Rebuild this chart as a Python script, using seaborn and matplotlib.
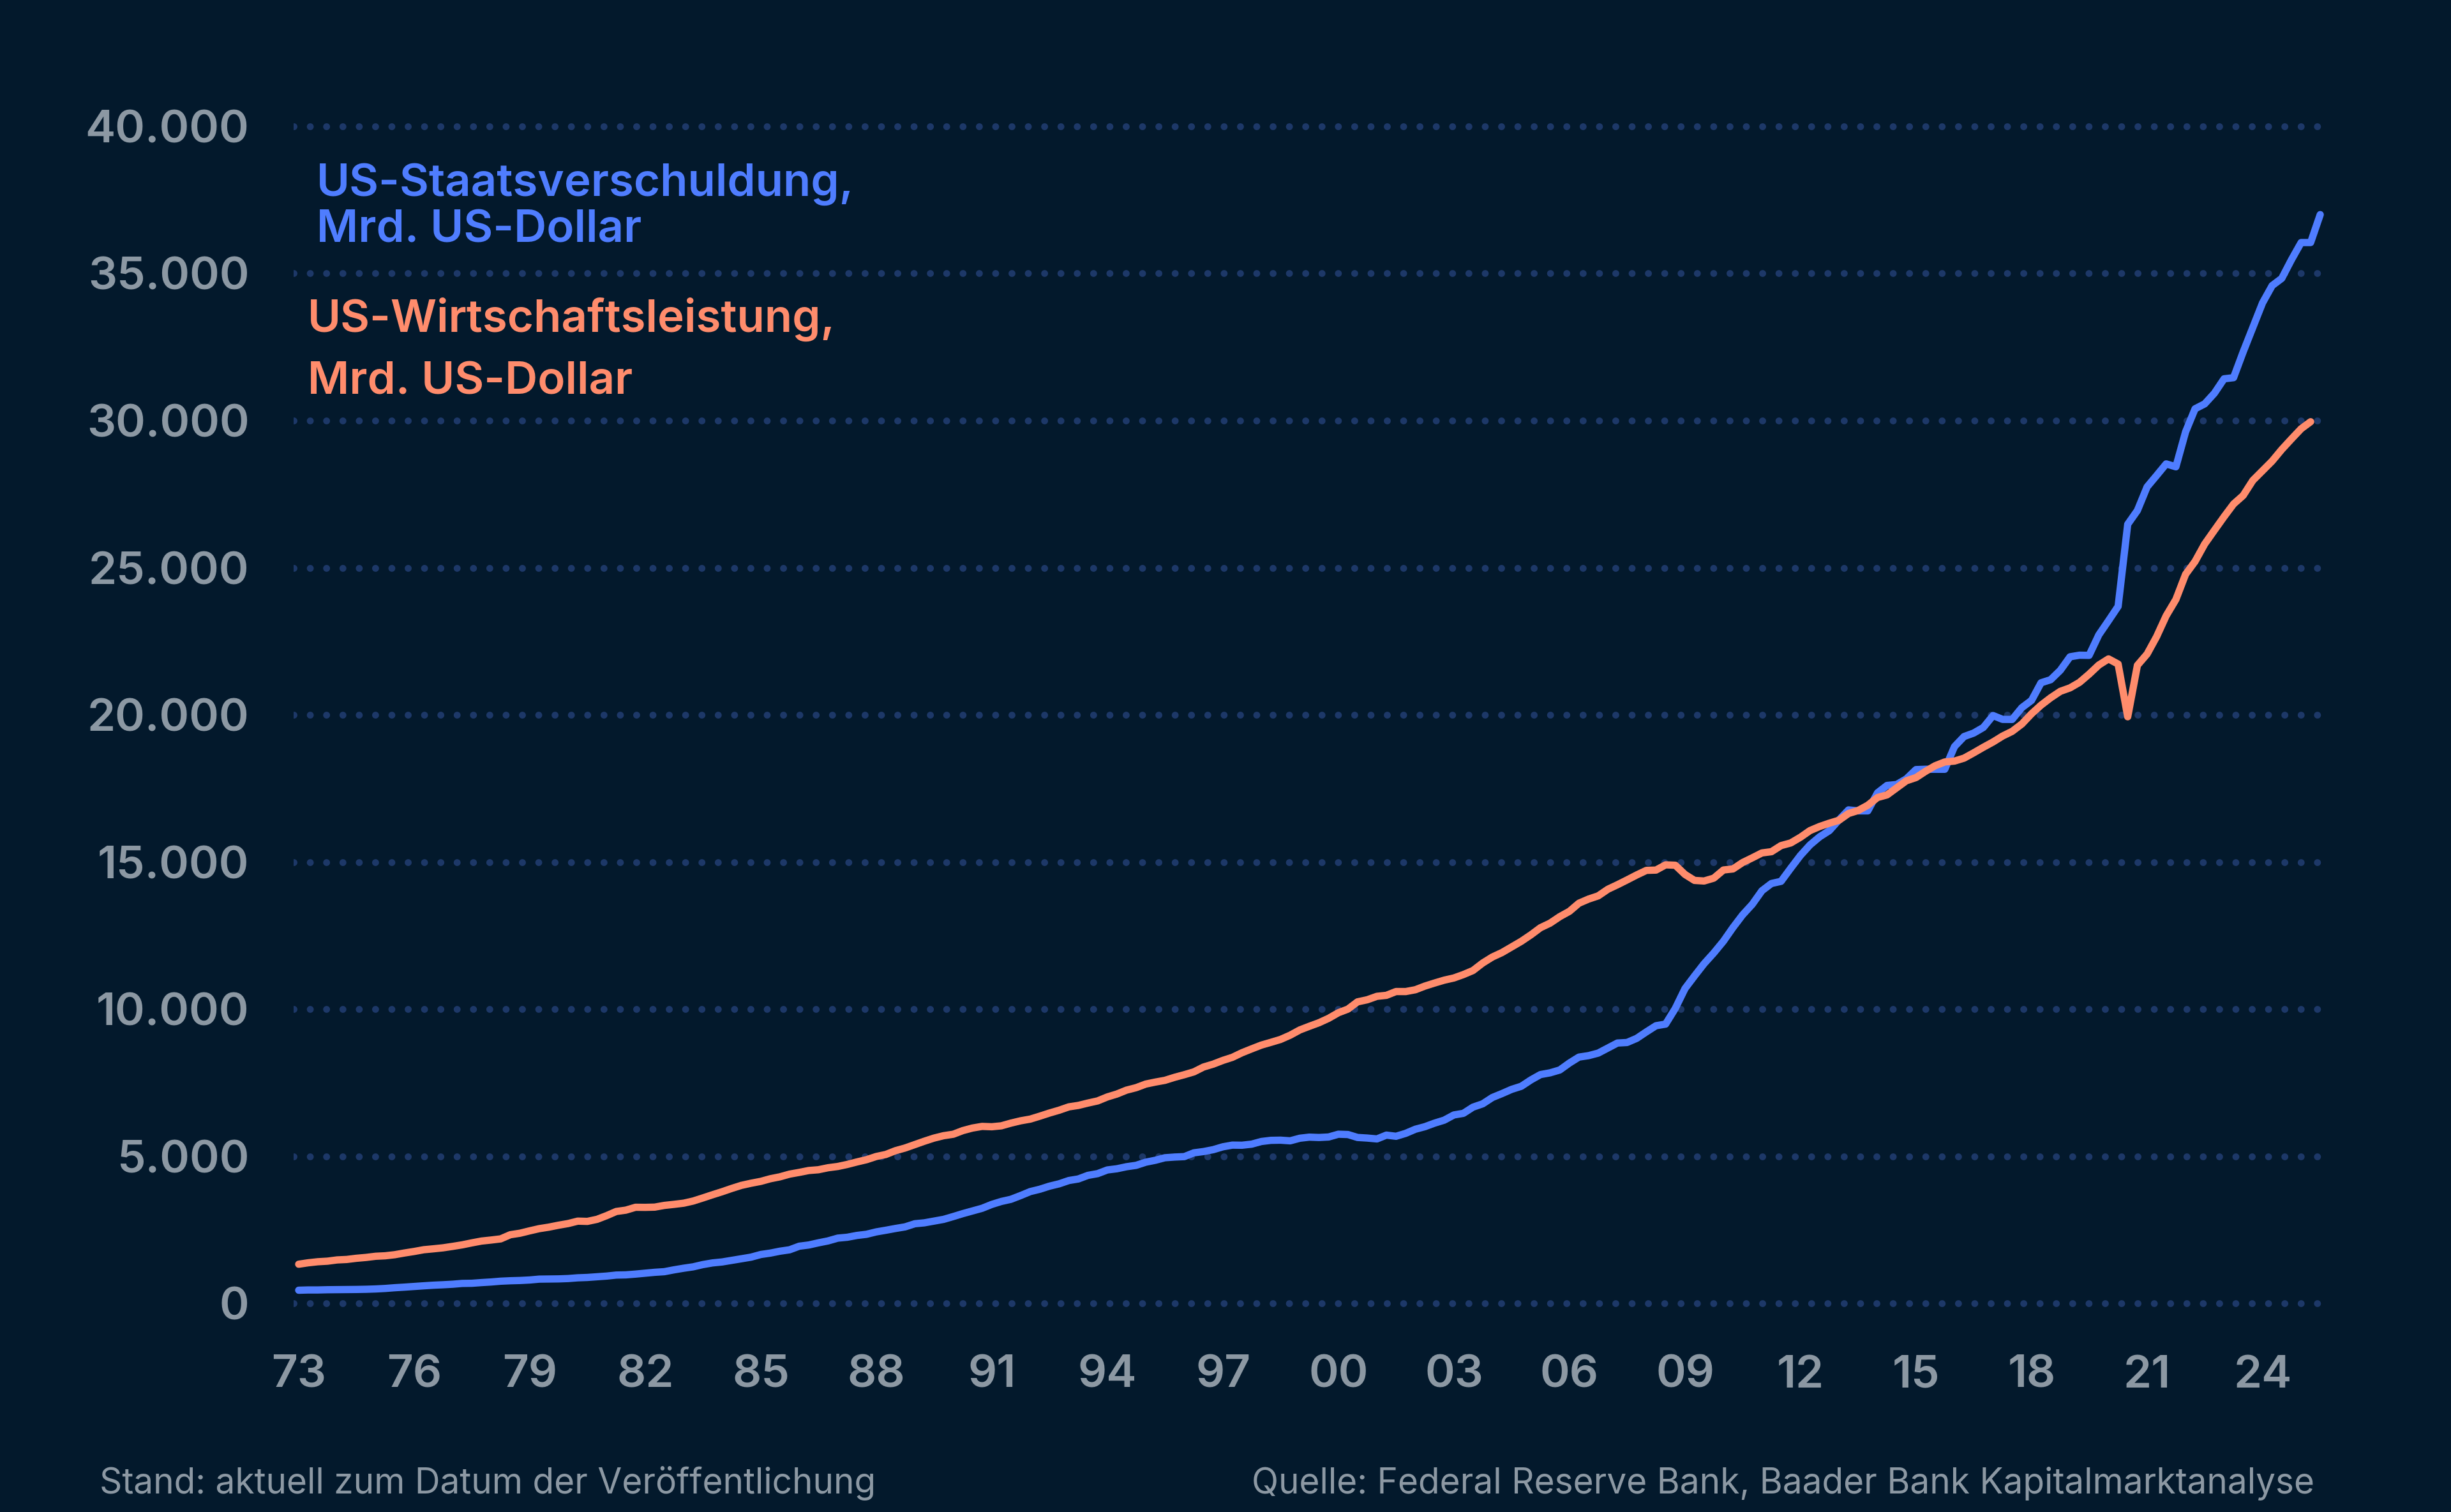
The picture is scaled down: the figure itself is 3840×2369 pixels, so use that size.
import pandas as pd
import matplotlib
matplotlib.use("Agg")
import matplotlib.pyplot as plt
import seaborn as sns

# Quartalswerte in Mrd. US-Dollar, erster Wert = Q4 1972, danach eine Zeile pro Jahr
debt = [
    449,
    458, 458, 466, 469,          # 1973
    474, 475, 481, 492,          # 1974
    509, 534, 554, 577,          # 1975
    599, 620, 635, 653,          # 1976
    680, 685, 709, 729,          # 1977
    756, 771, 780, 797,          # 1978
    826, 829, 834, 846,          # 1979
    871, 883, 907, 930,          # 1980
    964, 971, 997, 1028,         # 1981
    1058, 1079, 1142, 1197,      # 1982
    1244, 1320, 1377, 1410,      # 1983
    1463, 1518, 1573, 1663,      # 1984
    1710, 1775, 1823, 1945,      # 1985
    1986, 2059, 2125, 2219,      # 1986
    2249, 2310, 2350, 2431,      # 1987
    2487, 2547, 2602, 2708,      # 1988
    2739, 2797, 2857, 2953,      # 1989
    3052, 3143, 3233, 3365,      # 1990
    3465, 3538, 3665, 3801,      # 1991
    3881, 3985, 4065, 4177,      # 1992
    4230, 4352, 4411, 4536,      # 1993
    4576, 4645, 4693, 4800,      # 1994
    4865, 4951, 4974, 4989,      # 1995
    5118, 5161, 5225, 5323,      # 1996
    5380, 5376, 5413, 5503,      # 1997
    5542, 5548, 5526, 5614,      # 1998
    5651, 5639, 5656, 5750,      # 1999
    5740, 5640, 5620, 5590,      # 2000
    5720, 5680, 5780, 5920,      # 2001
    6006, 6126, 6228, 6405,      # 2002
    6460, 6670, 6783, 6998,      # 2003
    7131, 7274, 7379, 7596,      # 2004
    7777, 7836, 7933, 8170,      # 2005
    8371, 8420, 8507, 8680,      # 2006
    8849, 8867, 9008, 9229,      # 2007
    9437, 9492, 10025, 10700,    # 2008
    11127, 11545, 11910, 12311,  # 2009
    12773, 13202, 13562, 14025,  # 2010
    14270, 14343, 14790, 15223,  # 2011
    15582, 15856, 16066, 16433,  # 2012
    16771, 16738, 16738, 17352,  # 2013
    17602, 17633, 17824, 18141,  # 2014
    18152, 18152, 18151, 18922,  # 2015
    19264, 19382, 19573, 19977,  # 2016
    19847, 19845, 20245, 20493,  # 2017
    21090, 21195, 21516, 21974,  # 2018
    22028, 22023, 22719, 23201,  # 2019
    23687, 26477, 26945, 27748,  # 2020
    28133, 28529, 28429, 29617,  # 2021
    30401, 30568, 30929, 31420,  # 2022
    31458, 32333, 33167, 34001,  # 2023
    34587, 34832, 35465, 36050,  # 2024
    36050, 37000,                # 2025
]

gdp = [
    1333,
    1381, 1417, 1436, 1479,      # 1973
    1494, 1534, 1563, 1603,      # 1974
    1619, 1656, 1714, 1766,      # 1975
    1825, 1856, 1890, 1939,      # 1976
    1991, 2058, 2120, 2155,      # 1977
    2194, 2335, 2386, 2467,      # 1978
    2541, 2592, 2658, 2715,      # 1979
    2797, 2788, 2858, 2985,      # 1980
    3125, 3170, 3268, 3265,      # 1981
    3273, 3331, 3367, 3407,      # 1982
    3480, 3584, 3693, 3797,      # 1983
    3909, 4012, 4085, 4148,      # 1984
    4237, 4302, 4394, 4453,      # 1985
    4517, 4543, 4611, 4654,      # 1986
    4723, 4807, 4885, 4993,      # 1987
    5062, 5190, 5282, 5399,      # 1988
    5512, 5618, 5700, 5750,      # 1989
    5873, 5960, 6016, 6004,      # 1990
    6035, 6127, 6206, 6264,      # 1991
    6364, 6470, 6566, 6680,      # 1992
    6729, 6809, 6882, 7017,      # 1993
    7115, 7247, 7332, 7455,      # 1994
    7522, 7581, 7684, 7773,      # 1995
    7869, 8033, 8132, 8259,      # 1996
    8363, 8519, 8651, 8779,      # 1997
    8872, 8970, 9115, 9294,      # 1998
    9418, 9538, 9689, 9878,      # 1999
    10002, 10248, 10319, 10436,  # 2000
    10470, 10599, 10598, 10660,  # 2001
    10784, 10887, 10985, 11060,  # 2002
    11175, 11313, 11567, 11772,  # 2003
    11923, 12112, 12305, 12527,  # 2004
    12767, 12922, 13143, 13325,  # 2005
    13600, 13740, 13850, 14075,  # 2006
    14227, 14390, 14560, 14716,  # 2007
    14726, 14904, 14891, 14577,  # 2008
    14375, 14355, 14452, 14729,  # 2009
    14765, 14981, 15142, 15309,  # 2010
    15351, 15558, 15648, 15842,  # 2011
    16069, 16207, 16320, 16420,  # 2012
    16649, 16750, 16930, 17192,  # 2013
    17280, 17520, 17760, 17870,  # 2014
    18080, 18270, 18400, 18430,  # 2015
    18530, 18710, 18900, 19080,  # 2016
    19280, 19440, 19690, 20038,  # 2017
    20330, 20580, 20800, 20918,  # 2018
    21105, 21384, 21694, 21902,  # 2019
    21727, 19935, 21684, 22068,  # 2020
    22657, 23368, 23921, 24777,  # 2021
    25215, 25805, 26272, 26734,  # 2022
    27165, 27454, 27967, 28297,  # 2023
    28624, 29017, 29375, 29723,  # 2024
    29962,                       # 2025
]

tick_years = list(range(1973, 2025, 3))
y_ticks = list(range(0, 40001, 5000))

debt_label = ["US-Staatsverschuldung,", "Mrd. US-Dollar"]
gdp_label = ["US-Wirtschaftsleistung,", "Mrd. US-Dollar"]
note_left = "Stand: aktuell zum Datum der Veröffentlichung"
note_right = "Quelle: Federal Reserve Bank, Baader Bank Kapitalmarktanalyse"

bg = "#03192c"
blue = "#4f7dff"
orange = "#ff8c6c"
dots = "#1d3868"
grey = "#8c98a3"

sns.set_theme(style="dark")
plt.rcParams["font.family"] = ["Inter", "DejaVu Sans"]


def quarter_ends(n):
    try:
        return pd.date_range("1972-12-31", periods=n, freq="QE")
    except ValueError:
        return pd.date_range("1972-12-31", periods=n, freq="Q")


df_debt = pd.DataFrame({"date": quarter_ends(len(debt)), "value": debt})
df_gdp = pd.DataFrame({"date": quarter_ends(len(gdp)), "value": gdp})

fig = plt.figure(figsize=(19.2, 11.845), dpi=200)
fig.patch.set_facecolor(bg)
ax = fig.add_axes([0.1198, 0.1321, 0.8302, 0.7902])
ax.set_facecolor(bg)

# dotted grid first, so the lines sit on top
for v in y_ticks:
    ax.axhline(v, color=dots, linewidth=3.9, linestyle=(0, (0.01, 2.35)),
               dash_capstyle="round", zorder=0)

line_kw = dict(linewidth=4.1, solid_capstyle="round", solid_joinstyle="round")
sns.lineplot(data=df_debt, x="date", y="value", color=blue, ax=ax, zorder=3, **line_kw)
sns.lineplot(data=df_gdp, x="date", y="value", color=orange, ax=ax, zorder=4, **line_kw)

ax.set_xlim(pd.Timestamp("1972-11-13"), pd.Timestamp("2025-09-16"))
ax.set_ylim(-300, 40300)

ax.set_yticks(y_ticks)
ax.set_yticklabels([f"{v:,}".replace(",", ".") for v in y_ticks])
ax.set_xticks(pd.to_datetime([f"{y}-01-01" for y in tick_years]))
ax.set_xticklabels([f"{y % 100:02d}" for y in tick_years])

ax.tick_params(axis="y", length=0, pad=25, labelsize=25.5, labelcolor=grey)
ax.tick_params(axis="x", length=0, pad=24, labelsize=25.5, labelcolor=grey)
for lab in ax.get_xticklabels() + ax.get_yticklabels():
    lab.set_fontweight("semibold")

ax.grid(False)
for s in ax.spines.values():
    s.set_visible(False)
ax.set_xlabel("")
ax.set_ylabel("")

txt_kw = dict(fontsize=25.5, fontweight="semibold", va="baseline", ha="left")
fig.text(0.1292, 1 - 307 / 2369, debt_label[0], color=blue, **txt_kw)
fig.text(0.1292, 1 - 380 / 2369, debt_label[1], color=blue, **txt_kw)
fig.text(0.1255, 1 - 520 / 2369, gdp_label[0], color=orange, **txt_kw)
fig.text(0.1255, 1 - 617 / 2369, gdp_label[1], color=orange, **txt_kw)

fig.text(156 / 3840, 1 - 2340 / 2369, note_left, color=grey, fontsize=19.8,
         va="baseline", ha="left")
fig.text(3626 / 3840, 1 - 2340 / 2369, note_right, color=grey, fontsize=19.8,
         va="baseline", ha="right")

fig.savefig("out.png", dpi=200, facecolor=bg)
